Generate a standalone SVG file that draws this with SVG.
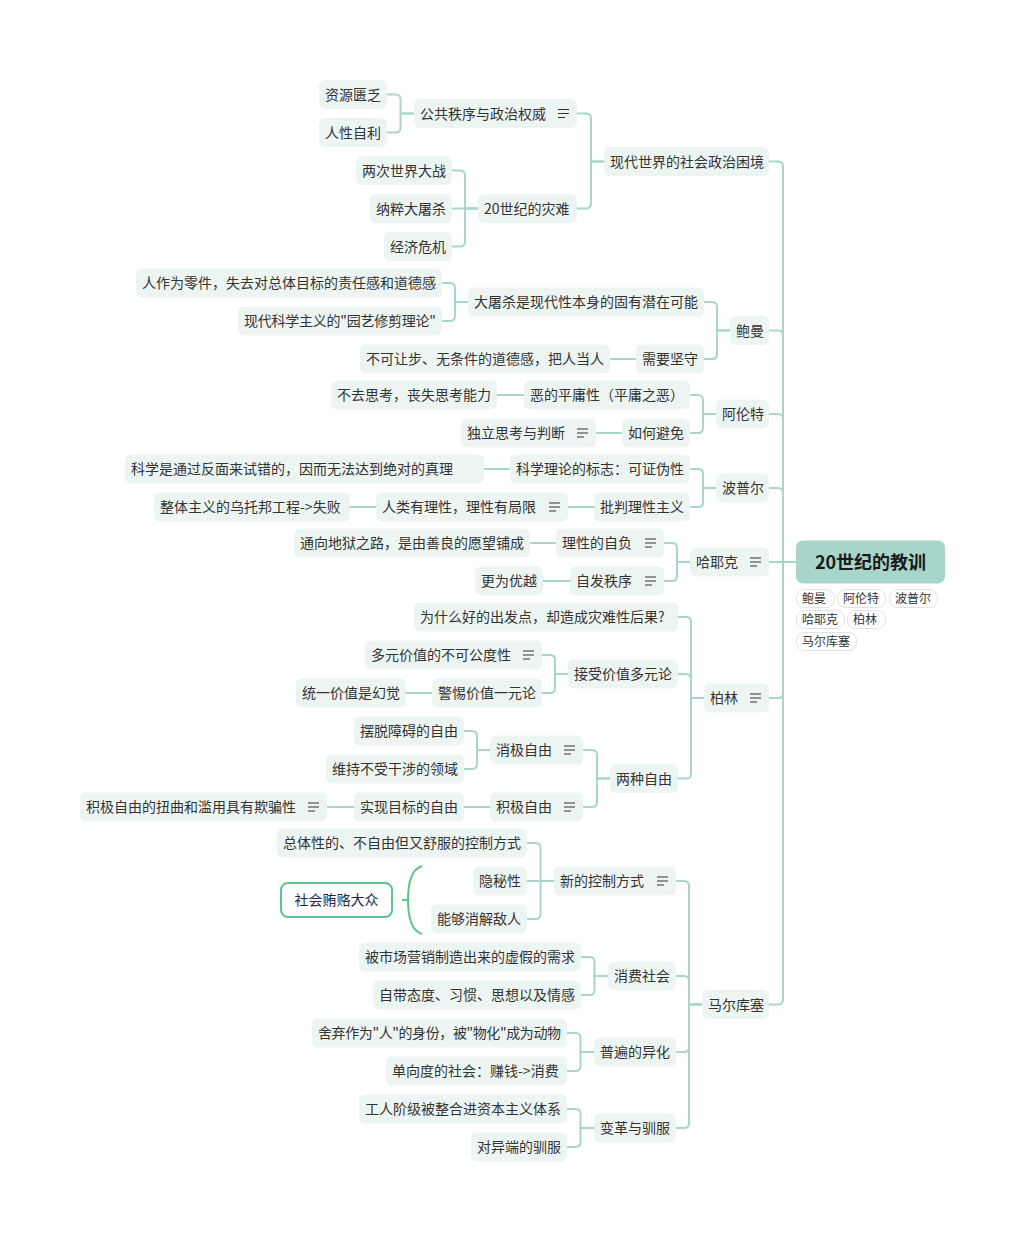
<svg xmlns="http://www.w3.org/2000/svg" xmlns:xlink="http://www.w3.org/1999/xlink" width="1025" height="1242" viewBox="0 0 1025 1242">
<style>
.n rect{fill:#EDF5F3}
text{font-family:"Noto Sans CJK SC","Noto Sans",sans-serif;font-size:14px;fill:#333}
.root rect{fill:#A7D5C9}
.root text{font-size:18px;font-weight:bold;fill:#1A1A1A}
.tag rect{fill:#fff;stroke:#E2E2E2;stroke-width:1}
.tag text{font-size:12px;fill:#333}
#connectors path{fill:none;stroke:#A9D6CB;stroke-width:2}
.sum rect{fill:#fff;stroke:#5CC48A;stroke-width:2}
.sum text{fill:#1E2A45}
.brace{fill:none;stroke:#5CC48A;stroke-width:2}
</style>
<defs>
<path id="note" d="M0 -4H11M0 0H11M0 4H7" stroke="#333" stroke-width="1.2" fill="none"/>
</defs>
<rect width="1025" height="1242" fill="#fff"/>
<g id="connectors">
<path d="M796 562H783V166.5Q783 161.5 778 161.5H769"/>
<path d="M796 562H783V335.5Q783 330.5 778 330.5H769"/>
<path d="M796 562H783V419Q783 414 778 414H769"/>
<path d="M796 562H783V493Q783 488 778 488H769"/>
<path d="M796 562H769"/>
<path d="M796 562H783V693Q783 698 778 698H769"/>
<path d="M796 562H783V999.5Q783 1004.5 778 1004.5H769"/>
<path d="M604 161.5H591V118.5Q591 113.5 586 113.5H577"/>
<path d="M604 161.5H591V203.5Q591 208.5 586 208.5H577"/>
<path d="M414 113.5H400.5V99.5Q400.5 94.5 395.5 94.5H387"/>
<path d="M414 113.5H400.5V127.5Q400.5 132.5 395.5 132.5H387"/>
<path d="M478 208.5H465V175.5Q465 170.5 460 170.5H452"/>
<path d="M478 208.5H452"/>
<path d="M478 208.5H465V241.5Q465 246.5 460 246.5H452"/>
<path d="M730 330.5H717V307Q717 302 712 302H704"/>
<path d="M730 330.5H717V354Q717 359 712 359H704"/>
<path d="M468 302H455V288Q455 283 450 283H442"/>
<path d="M468 302H455V316Q455 321 450 321H442"/>
<path d="M636 359H610"/>
<path d="M716 414H703V400Q703 395 698 395H690"/>
<path d="M716 414H703V428Q703 433 698 433H690"/>
<path d="M524 395H497"/>
<path d="M622 433H596"/>
<path d="M716 488H703V474Q703 469 698 469H690"/>
<path d="M716 488H703V502Q703 507 698 507H690"/>
<path d="M510 469H484"/>
<path d="M594 507H568"/>
<path d="M376 507H350"/>
<path d="M690 562H677V548Q677 543 672 543H664"/>
<path d="M690 562H677V576Q677 581 672 581H664"/>
<path d="M556 543H530"/>
<path d="M570 581H543"/>
<path d="M704 698H691V622Q691 617 686 617H678"/>
<path d="M704 698H691V679Q691 674 686 674H678"/>
<path d="M704 698H691V773.5Q691 778.5 686 778.5H678"/>
<path d="M568 674H555V660Q555 655 550 655H542"/>
<path d="M568 674H555V688Q555 693 550 693H542"/>
<path d="M432 693H406"/>
<path d="M610 778.5H597V755Q597 750 592 750H583"/>
<path d="M610 778.5H597V802Q597 807 592 807H583"/>
<path d="M490 750H477V736Q477 731 472 731H464"/>
<path d="M490 750H477V764Q477 769 472 769H464"/>
<path d="M490 807H464"/>
<path d="M354 807H327"/>
<path d="M702 1004.5H689V886Q689 881 684 881H676"/>
<path d="M702 1004.5H689V981Q689 976 684 976H676"/>
<path d="M702 1004.5H689V1047Q689 1052 684 1052H676"/>
<path d="M702 1004.5H689V1123Q689 1128 684 1128H676"/>
<path d="M554 881H540.5V848Q540.5 843 535.5 843H527"/>
<path d="M554 881H527"/>
<path d="M554 881H540.5V914Q540.5 919 535.5 919H527"/>
<path d="M608 976H594.5V962Q594.5 957 589.5 957H581"/>
<path d="M608 976H594.5V990Q594.5 995 589.5 995H581"/>
<path d="M594 1052H580.5V1038Q580.5 1033 575.5 1033H567"/>
<path d="M594 1052H580.5V1066Q580.5 1071 575.5 1071H567"/>
<path d="M594 1128H580.5V1114Q580.5 1109 575.5 1109H567"/>
<path d="M594 1128H580.5V1142Q580.5 1147 575.5 1147H567"/>
</g>

<g id="root" class="root"><rect x="796" y="540.5" width="149" height="43" rx="7"/><text x="870.5" y="568.5" text-anchor="middle">20世纪的教训</text></g>
<g id="tags" class="tag">
<rect x="796.5" y="589.5" width="38" height="18" rx="8"/><text x="802" y="602.5">鲍曼</text>
<rect x="837.5" y="589.5" width="48" height="18" rx="8"/><text x="843" y="602.5">阿伦特</text>
<rect x="889.5" y="589.5" width="48" height="18" rx="8"/><text x="895" y="602.5">波普尔</text>
<rect x="796.5" y="610.5" width="48" height="18" rx="8"/><text x="802" y="623.5">哈耶克</text>
<rect x="847.5" y="610.5" width="38" height="18" rx="8"/><text x="853" y="623.5">柏林</text>
<rect x="796.5" y="632.5" width="60" height="18" rx="8"/><text x="802" y="645.5">马尔库塞</text>
</g>

<g id="n1" class="n"><rect x="604" y="147" width="165" height="29" rx="6"/><text x="610" y="166.5">现代世界的社会政治困境</text></g>
<g id="n2" class="n"><rect x="730" y="316" width="39" height="29" rx="6"/><text x="736" y="335.5">鲍曼</text></g>
<g id="n3" class="n"><rect x="716" y="399.5" width="53" height="29" rx="6"/><text x="722" y="419">阿伦特</text></g>
<g id="n4" class="n"><rect x="716" y="473.5" width="53" height="29" rx="6"/><text x="722" y="493">波普尔</text></g>
<g id="n5" class="n"><rect x="690" y="547.5" width="79" height="29" rx="6"/><text x="696" y="567">哈耶克</text><use href="#note" x="750" y="562"/></g>
<g id="n6" class="n"><rect x="704" y="683.5" width="65" height="29" rx="6"/><text x="710" y="703">柏林</text><use href="#note" x="750" y="698"/></g>
<g id="n7" class="n"><rect x="702" y="990" width="67" height="29" rx="6"/><text x="708" y="1009.5">马尔库塞</text></g>

<g id="n8" class="n"><rect x="414" y="99" width="163" height="29" rx="6"/><text x="420" y="118.5">公共秩序与政治权威</text><use href="#note" x="558" y="113.5"/></g>
<g id="n9" class="n"><rect x="478" y="194" width="99" height="29" rx="6"/><text x="484" y="213.5">20世纪的灾难</text></g>
<g id="n10" class="n"><rect x="319" y="80" width="68" height="29" rx="6"/><text x="325" y="99.5">资源匮乏</text></g>
<g id="n11" class="n"><rect x="319" y="118" width="68" height="29" rx="6"/><text x="325" y="137.5">人性自利</text></g>
<g id="n12" class="n"><rect x="356" y="156" width="96" height="29" rx="6"/><text x="362" y="175.5">两次世界大战</text></g>
<g id="n13" class="n"><rect x="370" y="194" width="82" height="29" rx="6"/><text x="376" y="213.5">纳粹大屠杀</text></g>
<g id="n14" class="n"><rect x="384" y="232" width="68" height="29" rx="6"/><text x="390" y="251.5">经济危机</text></g>

<g id="n15" class="n"><rect x="468" y="287.5" width="236" height="29" rx="6"/><text x="474" y="307">大屠杀是现代性本身的固有潜在可能</text></g>
<g id="n16" class="n"><rect x="636" y="344.5" width="68" height="29" rx="6"/><text x="642" y="364">需要坚守</text></g>
<g id="n17" class="n"><rect x="136" y="268.5" width="306" height="29" rx="6"/><text x="142" y="288">人作为零件，失去对总体目标的责任感和道德感</text></g>
<g id="n18" class="n"><rect x="238" y="306.5" width="204" height="29" rx="6"/><text x="244" y="326" textLength="192" lengthAdjust="spacing">现代科学主义的"园艺修剪理论"</text></g>
<g id="n19" class="n"><rect x="360" y="344.5" width="250" height="29" rx="6"/><text x="366" y="364">不可让步、无条件的道德感，把人当人</text></g>

<g id="n20" class="n"><rect x="524" y="380.5" width="166" height="29" rx="6"/><text x="530" y="400">恶的平庸性（平庸之恶）</text></g>
<g id="n21" class="n"><rect x="622" y="418.5" width="68" height="29" rx="6"/><text x="628" y="438">如何避免</text></g>
<g id="n22" class="n"><rect x="331" y="380.5" width="166" height="29" rx="6"/><text x="337" y="400">不去思考，丧失思考能力</text></g>
<g id="n23" class="n"><rect x="461" y="418.5" width="135" height="29" rx="6"/><text x="467" y="438">独立思考与判断</text><use href="#note" x="577" y="433"/></g>

<g id="n24" class="n"><rect x="510" y="454.5" width="180" height="29" rx="6"/><text x="516" y="474">科学理论的标志：可证伪性</text></g>
<g id="n25" class="n"><rect x="594" y="492.5" width="96" height="29" rx="6"/><text x="600" y="512">批判理性主义</text></g>
<g id="n26" class="n"><rect x="125" y="454.5" width="359" height="29" rx="6"/><text x="131" y="474">科学是通过反面来试错的，因而无法达到绝对的真理</text></g>
<g id="n27" class="n"><rect x="376" y="492.5" width="192" height="29" rx="6"/><text x="382" y="512">人类有理性，理性有局限</text><use href="#note" x="549" y="507"/></g>
<g id="n28" class="n"><rect x="154" y="492.5" width="196" height="29" rx="6"/><text x="160" y="512">整体主义的乌托邦工程-&gt;失败</text></g>

<g id="n29" class="n"><rect x="556" y="528.5" width="108" height="29" rx="6"/><text x="562" y="548">理性的自负</text><use href="#note" x="645" y="543"/></g>
<g id="n30" class="n"><rect x="570" y="566.5" width="94" height="29" rx="6"/><text x="576" y="586">自发秩序</text><use href="#note" x="645" y="581"/></g>
<g id="n31" class="n"><rect x="294" y="528.5" width="236" height="29" rx="6"/><text x="300" y="548">通向地狱之路，是由善良的愿望铺成</text></g>
<g id="n32" class="n"><rect x="475" y="566.5" width="68" height="29" rx="6"/><text x="481" y="586">更为优越</text></g>

<g id="n33" class="n"><rect x="414" y="602.5" width="264" height="29" rx="6"/><text x="420" y="622">为什么好的出发点，却造成灾难性后果?</text></g>
<g id="n34" class="n"><rect x="568" y="659.5" width="110" height="29" rx="6"/><text x="574" y="679">接受价值多元论</text></g>
<g id="n35" class="n"><rect x="610" y="764" width="68" height="29" rx="6"/><text x="616" y="783.5">两种自由</text></g>
<g id="n36" class="n"><rect x="365" y="640.5" width="177" height="29" rx="6"/><text x="371" y="660">多元价值的不可公度性</text><use href="#note" x="523" y="655"/></g>
<g id="n37" class="n"><rect x="432" y="678.5" width="110" height="29" rx="6"/><text x="438" y="698">警惕价值一元论</text></g>
<g id="n38" class="n"><rect x="296" y="678.5" width="110" height="29" rx="6"/><text x="302" y="698">统一价值是幻觉</text></g>
<g id="n39" class="n"><rect x="490" y="735.5" width="93" height="29" rx="6"/><text x="496" y="755">消极自由</text><use href="#note" x="564" y="750"/></g>
<g id="n40" class="n"><rect x="490" y="792.5" width="93" height="29" rx="6"/><text x="496" y="812">积极自由</text><use href="#note" x="564" y="807"/></g>
<g id="n41" class="n"><rect x="354" y="716.5" width="110" height="29" rx="6"/><text x="360" y="736">摆脱障碍的自由</text></g>
<g id="n42" class="n"><rect x="326" y="754.5" width="138" height="29" rx="6"/><text x="332" y="774">维持不受干涉的领域</text></g>
<g id="n43" class="n"><rect x="354" y="792.5" width="110" height="29" rx="6"/><text x="360" y="812">实现目标的自由</text></g>
<g id="n44" class="n"><rect x="80" y="792.5" width="247" height="29" rx="6"/><text x="86" y="812">积极自由的扭曲和滥用具有欺骗性</text><use href="#note" x="308" y="807"/></g>

<g id="n45" class="n"><rect x="554" y="866.5" width="122" height="29" rx="6"/><text x="560" y="886">新的控制方式</text><use href="#note" x="657" y="881"/></g>
<g id="n46" class="n"><rect x="608" y="961.5" width="68" height="29" rx="6"/><text x="614" y="981">消费社会</text></g>
<g id="n47" class="n"><rect x="594" y="1037.5" width="82" height="29" rx="6"/><text x="600" y="1057">普遍的异化</text></g>
<g id="n48" class="n"><rect x="594" y="1113.5" width="82" height="29" rx="6"/><text x="600" y="1133">变革与驯服</text></g>
<g id="n49" class="n"><rect x="277" y="828.5" width="250" height="29" rx="6"/><text x="283" y="848">总体性的、不自由但又舒服的控制方式</text></g>
<g id="n50" class="n"><rect x="473" y="866.5" width="54" height="29" rx="6"/><text x="479" y="886">隐秘性</text></g>
<g id="n51" class="n"><rect x="431" y="904.5" width="96" height="29" rx="6"/><text x="437" y="924">能够消解敌人</text></g>
<g id="n52" class="n"><rect x="359" y="942.5" width="222" height="29" rx="6"/><text x="365" y="962">被市场营销制造出来的虚假的需求</text></g>
<g id="n53" class="n"><rect x="373" y="980.5" width="208" height="29" rx="6"/><text x="379" y="1000">自带态度、习惯、思想以及情感</text></g>
<g id="n54" class="n"><rect x="312" y="1018.5" width="255" height="29" rx="6"/><text x="318" y="1038" textLength="243" lengthAdjust="spacing">舍弃作为"人"的身份，被"物化"成为动物</text></g>
<g id="n55" class="n"><rect x="386" y="1056.5" width="181" height="29" rx="6"/><text x="392" y="1076">单向度的社会：赚钱-&gt;消费</text></g>
<g id="n56" class="n"><rect x="359" y="1094.5" width="208" height="29" rx="6"/><text x="365" y="1114">工人阶级被整合进资本主义体系</text></g>
<g id="n57" class="n"><rect x="471" y="1132.5" width="96" height="29" rx="6"/><text x="477" y="1152">对异端的驯服</text></g>

<g id="summary" class="sum">
<path class="brace" d="M422 866C412 869 408 880 408 900C408 920 412 931 422 934M408 900H402"/>
<rect x="281" y="883" width="111" height="34" rx="7"/><text x="336.5" y="905" text-anchor="middle">社会贿赂大众</text>
</g>
</svg>
